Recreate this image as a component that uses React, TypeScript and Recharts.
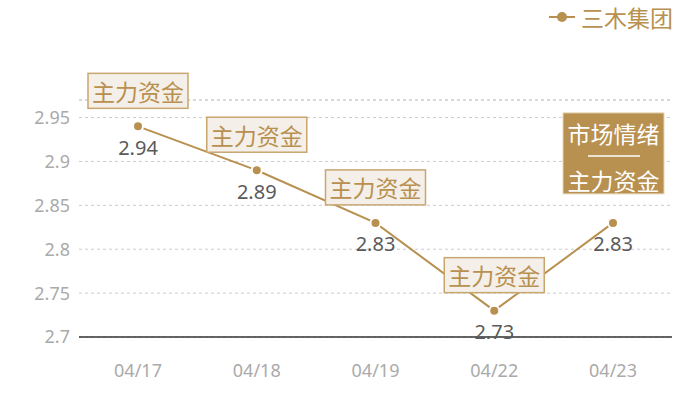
import React from 'react';
import { LineChart, Line, XAxis, YAxis, CartesianGrid, ReferenceLine } from 'recharts';

const categories = ['04/17', '04/18', '04/19', '04/22', '04/23'];
const values = [2.94, 2.89, 2.83, 2.73, 2.83];
const yTicks = [2.7, 2.75, 2.8, 2.85, 2.9, 2.95];
const yMax = 2.97;
const seriesName = '三木集团';
const boxText = '主力资金';
const lastBoxTop = '市场情绪';

const data = categories.map((c, i) => ({ date: c, value: values[i] }));

const GOLD = '#b8904f';
const FONT = '"Noto Sans", "Noto Sans CJK SC", sans-serif';
const CJK = '"Noto Sans CJK SC", sans-serif';

const renderLabel = (props: any) => {
  const { x, y, value, index } = props;
  const isLast = index === data.length - 1;
  return (
    <g key={`lbl-${index}`}>
      <text x={x} y={y + 21} textAnchor="middle" dominantBaseline="central" fill="#5a5a5a" fontSize={20} fontFamily={FONT}>
        {value}
      </text>
      {isLast ? (
        <g>
          <rect x={x - 50} y={y - 110} width={101} height={81} fill={GOLD} stroke="#e6d6b8" strokeWidth={1} />
          <text x={x + 0.5} y={y - 90} textAnchor="middle" dominantBaseline="central" fill="#fff" fontSize={23} fontFamily={CJK}>
            {lastBoxTop}
          </text>
          <line x1={x - 25} x2={x + 27} y1={y - 67} y2={y - 67} stroke="#fff" strokeWidth={1.5} />
          <text x={x + 0.5} y={y - 43} textAnchor="middle" dominantBaseline="central" fill="#fff" fontSize={23} fontFamily={CJK}>
            {boxText}
          </text>
        </g>
      ) : (
        <g>
          <rect x={x - 50} y={y - 53} width={100} height={35} fill="#f4efe8" stroke="#c9a670" strokeWidth={1.5} />
          <text x={x} y={y - 35.5} textAnchor="middle" dominantBaseline="central" fill={GOLD} fontSize={23} fontFamily={CJK}>
            {boxText}
          </text>
        </g>
      )}
    </g>
  );
};

export default function App() {
  return (
    <div style={{ position: 'absolute', left: 0, top: 0, width: 700, height: 400, background: '#fff' }}>
      <LineChart width={700} height={400} data={data} margin={{ top: 100, right: 28, bottom: 33, left: 0 }}>
        <CartesianGrid vertical={false} stroke="#ccc" strokeDasharray="3 3" />
        <ReferenceLine y={yMax} stroke="#ccc" strokeDasharray="3 3" />
        <XAxis
          dataKey="date"
          padding={{ left: 59, right: 59 }}
          axisLine={{ stroke: '#333', strokeWidth: 1.5 }}
          tickLine={false}
          tickSize={0}
          tickMargin={27}
          height={30}
          tick={{ fill: '#aaa', fontSize: 18, fontFamily: FONT }}
        />
        <YAxis
          domain={[2.7, yMax]}
          ticks={yTicks}
          width={79}
          axisLine={false}
          tickLine={false}
          tickSize={0}
          tickMargin={9}
          tick={{ fill: '#aaa', fontSize: 18, fontFamily: FONT }}
        />
        <Line
          type="linear"
          dataKey="value"
          name={seriesName}
          stroke={GOLD}
          strokeWidth={2}
          dot={{ r: 5, fill: GOLD, stroke: '#fff', strokeWidth: 2 }}
          activeDot={false}
          isAnimationActive={false}
          label={renderLabel}
        />
      </LineChart>
      <div
        style={{
          position: 'absolute',
          top: 3,
          right: 27,
          display: 'flex',
          alignItems: 'center',
          fontFamily: CJK,
          fontSize: 23,
          lineHeight: '28px',
          color: GOLD,
        }}
      >
        <svg width={26} height={14} style={{ marginRight: 6 }}>
          <line x1={0} x2={26} y1={7} y2={7} stroke={GOLD} strokeWidth={2} />
          <circle cx={13} cy={7} r={5} fill={GOLD} />
        </svg>
        <span>{seriesName}</span>
      </div>
    </div>
  );
}
